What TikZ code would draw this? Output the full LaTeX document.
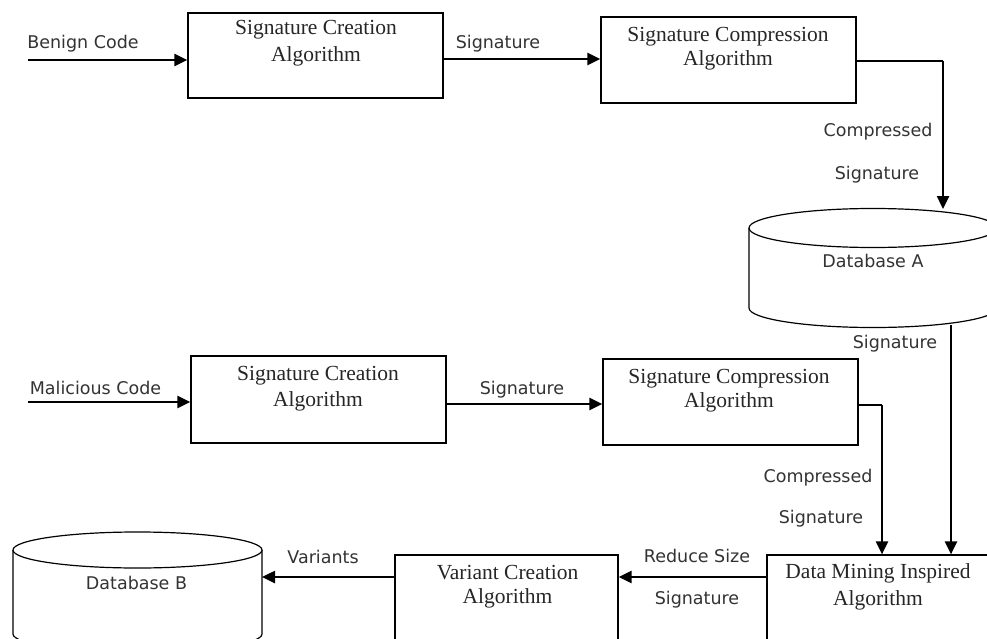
\documentclass[tikz,border=0pt]{standalone}
\usepackage{fontspec}
\setmainfont{Liberation Serif}
\newfontfamily\lblfont{DejaVu Sans}
\usetikzlibrary{arrows.meta}
\tikzset{
  box/.style={draw=black, line width=1.2pt, inner sep=0pt, fill=white},
  arr/.style={line width=2.5pt, -{Triangle[length=13pt,width=12pt]}},
  thinline/.style={line width=1.2pt},
  dbline/.style={line width=1.2pt},
  serif/.style={inner sep=0pt, anchor=base, font=\fontsize{21.5}{25}\selectfont, text=black!85},
  lbl/.style={inner sep=0pt, anchor=base, font=\lblfont\fontsize{17.5}{21}\selectfont, text=black!80},
}
\begin{document}
\begin{tikzpicture}[x=1pt,y=-1pt]
\useasboundingbox (0,0) rectangle (987,639);
\clip (0,0) rectangle (987,639);
\fill[white] (0,0) rectangle (987,639);

% boxes
\node[box, minimum width=255pt, minimum height=85pt] (b1) at (315.5,55.5) {};
\node[box, minimum width=255pt, minimum height=86pt] (b2) at (728.5,60) {};
\node[box, minimum width=255pt, minimum height=87pt] (b3) at (318.5,399.5) {};
\node[box, minimum width=255pt, minimum height=86pt] (b4) at (730.5,402) {};
\node[box, minimum width=223pt, minimum height=145pt] (var) at (506.5,627.5) {};
\node[box, minimum width=243pt, minimum height=145pt] (dm) at (888.5,627.5) {};

% box texts
\node[serif] (b1a) at (316,35) {Signature Creation};
\node[serif] (b1b) at (316,62) {Algorithm};
\node[serif] (b2a) at (728,42) {Signature Compression};
\node[serif] (b2b) at (728,66) {Algorithm};
\node[serif] (b3a) at (318,380) {Signature Creation};
\node[serif] (b3b) at (318,406) {Algorithm};
\node[serif] (b4a) at (729,383) {Signature Compression};
\node[serif] (b4b) at (729,407) {Algorithm};
\node[serif] (vara) at (507.5,579) {Variant Creation};
\node[serif] (varb) at (507.5,603) {Algorithm};
\node[serif] (dma) at (878,578) {Data Mining Inspired};
\node[serif] (dmb) at (878,605) {Algorithm};

% database A
\draw[dbline, fill=white] (749,228) -- (749,308) arc[start angle=180, end angle=360, x radius=124pt, y radius=19.5pt] -- (997,228);
\draw[dbline, fill=white] (873,228) ellipse[x radius=124pt, y radius=19.5pt];
\node[lbl] (dbAt) at (873,267) {Database A};

% database B
\draw[dbline, fill=white] (13,550) -- (13,634) arc[start angle=180, end angle=360, x radius=124.5pt, y radius=18pt] -- (262,550);
\draw[dbline, fill=white] (137.5,550) ellipse[x radius=124.5pt, y radius=18pt];
\node[lbl] (dbBt) at (136.5,589) {Database B};

% coordinates
\coordinate (benin) at (28,60);
\coordinate (s1) at (0,59);
\coordinate (malin) at (28,402);
\coordinate (s3) at (0,404);
\coordinate (c2) at (943,61);
\coordinate (dbAin) at (943,209);
\coordinate (dbAout) at (951,325);
\coordinate (c4) at (882,405);
\coordinate (r) at (0,577);
\coordinate (dbBin) at (262,577);

% connectors
\draw[arr] (benin) -- (benin -| b1.west);
\draw[arr] (b1.east |- s1) -- (s1 -| b2.west);
\draw[thinline] (b2.east |- c2) -- (c2);
\draw[arr] (c2) -- (dbAin);
\draw[arr] (dbAout) -- (dbAout |- dm.north);
\draw[arr] (malin) -- (malin -| b3.west);
\draw[arr] (b3.east |- s3) -- (s3 -| b4.west);
\draw[line width=1.8pt] (b4.east |- c4) -- (c4);
\draw[arr] (c4) -- (c4 |- dm.north);
\draw[arr] (dm.west |- r) -- (r -| var.east);
\draw[arr] (var.west |- r) -- (dbBin);

% labels
\node[lbl] (lbenign) at (83,49) {Benign Code};
\node[lbl] (lsig1) at (498,49) {Signature};
\node[lbl] (lcomp1) at (878,137) {Compressed};
\node[lbl] (lsig2) at (877,179) {Signature};
\node[lbl] (lsig3) at (895,348) {Signature};
\node[lbl] (lmal) at (95.5,394) {Malicious Code};
\node[lbl] (lsig4) at (522,394) {Signature};
\node[lbl] (lcomp2) at (818,482) {Compressed};
\node[lbl] (lsig5) at (821,523) {Signature};
\node[lbl] (lred) at (697,562) {Reduce Size};
\node[lbl] (lsig6) at (697,604) {Signature};
\node[lbl] (lvar) at (323,563) {Variants};
\end{tikzpicture}
\end{document}
